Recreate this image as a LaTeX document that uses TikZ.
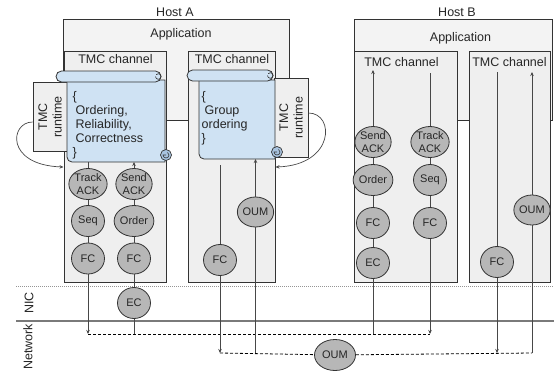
\documentclass[tikz,border=0pt]{standalone}
\usepackage{fontspec}
\setmainfont{Liberation Sans}
\usetikzlibrary{arrows.meta,shapes.geometric,calc}

\definecolor{boxfill}{HTML}{EFEFEF}
\definecolor{appfill}{HTML}{F3F3F3}
\definecolor{edge}{HTML}{333333}
\definecolor{blockfill}{HTML}{B7B7B7}
\definecolor{scrollfill}{HTML}{CFE2F3}
\definecolor{curlfill}{HTML}{A9C4E0}
\definecolor{wire}{HTML}{474747}
\definecolor{sepline}{HTML}{7A7A7A}

\begin{document}
\begin{tikzpicture}[x=1pt,y=-1pt,
  lbl/.style={font=\fontsize{12.5}{14.5}\selectfont, inner sep=0pt, text=black!85},
  hostbox/.style={draw=edge, fill=appfill, line width=0.8pt, inner sep=0pt},
  chanbox/.style={draw=edge, fill=boxfill, line width=0.8pt, inner sep=0pt},
  block/.style={ellipse, draw=edge, fill=blockfill, line width=0.8pt, inner sep=0pt,
    minimum width=33pt, minimum height=31pt, text=black!85,
    font=\fontsize{11}{12.5}\selectfont, align=center},
  wireline/.style={draw=wire, line width=0.9pt},
  arr/.style={wireline, -{Stealth[length=4pt,width=3.5pt]}},
  link/.style={draw=black, line width=0.8pt, dash pattern=on 3pt off 2pt},
  scrollbody/.style={draw=edge, fill=scrollfill, line width=0.8pt},
  curl/.style={draw=edge, fill=curlfill, line width=0.7pt},
  rules/.style={font=\fontsize{12.5}{14}\selectfont, inner sep=0pt, align=left,
    anchor=north west, text=black!85},
]
\useasboundingbox (0,0) rectangle (554,375);

% layer separators
\draw[sepline!80, line width=0.6pt, dash pattern=on 1pt off 1pt] (16,286.5) -- (554,286.5);
\draw[sepline, line width=1.1pt] (16,321) -- (554,321);
\node[lbl, rotate=90] (nic) at (29,303) {NIC};
\node[lbl, rotate=90] (network) at (28,347) {Network};

% ---------------- Host A ----------------
\node[lbl] (hostA) at (175,12) {Host A};
\node[hostbox, minimum width=226pt, minimum height=101pt] (appA) at (176,69.5) {};
\node[lbl] (appAt) at (181,34) {Application};

\node[chanbox, minimum width=102pt, minimum height=231pt] (chA1) at (115,166.5) {};
\node[chanbox, minimum width=87pt, minimum height=231pt] (chA2) at (231.5,166.5) {};
\node[lbl] (chA1t) at (115.5,59) {TMC channel};
\node[lbl] (chA2t) at (232,59) {TMC channel};

\node[chanbox, minimum width=34pt, minimum height=69pt] (rtA1) at (50,116.5) {};
\node[lbl, rotate=90, align=center] (rtA1t) at (50,117) {TMC\\runtime};
\node[chanbox, minimum width=34pt, minimum height=79pt] (rtA2) at (291,117.5) {};
\node[lbl, rotate=90, align=center] (rtA2t) at (291,117.5) {TMC\\runtime};

% scroll holding the first channel's properties
\path[scrollbody] (67,80) -- (67,157) arc[start angle=180, end angle=270, radius=5pt]
  -- (165,162) -- (165,80) -- cycle;
\path[curl] (166,155) circle[radius=5.5pt];
\draw[edge, line width=0.6pt] (166,155) -- (163,155) arc[start angle=180, end angle=420, radius=3pt];
\path[scrollbody, rounded corners=5.5pt] (56,71) rectangle (161,82);
\draw[edge, line width=0.6pt] (155.5,76.5) arc[start angle=180, end angle=500, radius=2.8pt];
\node[rules] (propsA1) at (72.5,91) {\{\\\hspace*{3pt}Ordering,\\\hspace*{3pt}Reliability,\\\hspace*{3pt}Correctness\\\}};

% scroll holding the second channel's properties
\path[scrollbody] (199,80) -- (199,154) arc[start angle=180, end angle=270, radius=5pt]
  -- (275,159) -- (275,80) -- cycle;
\path[curl] (277,152) circle[radius=5.5pt];
\draw[edge, line width=0.6pt] (277,152) -- (274,152) arc[start angle=180, end angle=420, radius=3pt];
\path[scrollbody, rounded corners=5.5pt] (187,70) rectangle (273,81);
\draw[edge, line width=0.6pt] (267.5,75.5) arc[start angle=180, end angle=500, radius=2.8pt];
\node[rules] (propsA2) at (201.5,91) {\{\\\hspace*{3pt}Group\\ordering\\\}};

\coordinate (scrA1-b) at (116,162);
\coordinate (scrA2-b) at (237,159);
\coordinate (chA2-top) at (220,165);

% runtime hooks
\coordinate (hookA1) at (63.5,167);
\coordinate (hookA2) at (275.5,167);
\draw[wireline, line width=0.7pt, -{Stealth[length=4pt,width=3.5pt]}]
  (rtA1.west |- 0,122) .. controls (10,122) and (5,165) .. (hookA1);
\draw[wireline, line width=0.7pt, -{Stealth[length=4pt,width=3.5pt]}]
  (rtA2.east |- 0,113) .. controls (335,113) and (335,165) .. (hookA2);

% blocks of host A
\node[block] (TA1) at (88,184) {Track\\ACK};
\node[block] (SQ1) at (88,221) {Seq};
\node[block] (FC1) at (88,258.5) {FC};
\node[block] (SA1) at (134,184) {Send\\ACK};
\node[block] (OR1) at (134,221) {Order};
\node[block] (FC2) at (134,258.5) {FC};
\node[block] (EC1) at (134,303) {EC};
\node[block, minimum width=36pt, minimum height=30pt] (OUM1) at (255.5,212) {OUM};
\node[block] (FC3) at (220,260) {FC};

% ---------------- Host B ----------------
\node[lbl] (hostB) at (457,12) {Host B};
\node[hostbox, minimum width=198pt, minimum height=101pt] (appB) at (453,69.5) {};
\node[lbl] (appBt) at (460.5,38) {Application};

\node[chanbox, minimum width=103pt, minimum height=231pt] (chB1) at (405.5,166.5) {};
\node[chanbox, minimum width=81pt, minimum height=231pt] (chB2) at (509.5,166.5) {};
\node[lbl] (chB1t) at (401.5,62) {TMC channel};
\node[lbl] (chB2t) at (509.5,62) {TMC channel};

\coordinate (chB1-a) at (373,70);
\coordinate (chB1-b) at (430,73);
\coordinate (chB2-a) at (497,72);
\coordinate (chB2-b) at (532,72);

\node[block] (SA2) at (373,142) {Send\\ACK};
\node[block] (OR2) at (373,180) {Order};
\node[block] (FC4) at (373,223) {FC};
\node[block] (EC2) at (373,263) {EC};
\node[block] (TA2) at (430,142) {Track\\ACK};
\node[block] (SQ2) at (430,180) {Seq};
\node[block] (FC5) at (430,223) {FC};
\node[block, minimum width=35pt, minimum height=30pt] (OUM2) at (532,210) {OUM};
\node[block] (FC6) at (497,262) {FC};

% ---------------- network ----------------
\coordinate (netU-w) at (88,334);
\coordinate (netU-e) at (430,334);
\coordinate (netL-w) at (220,353);
\coordinate (netL-e) at (532,353);
\node[block, minimum width=41pt, minimum height=31pt] (OUM3) at (335,355) {OUM};

\draw[link] (netU-w) -- (netU-e);
\draw[link] (netL-w) -- (OUM3);
\draw[link] (OUM3) -- (netL-e);

% ---------------- connectors ----------------
% host A, first channel
\draw[wireline] (TA1 |- scrA1-b) -- (TA1);
\draw[wireline] (TA1) -- (SQ1);
\draw[wireline] (SQ1) -- (FC1);
\draw[arr] (FC1) -- (FC1 |- netU-w);
\draw[arr] (SA1) -- (SA1 |- scrA1-b);
\draw[wireline] (SA1) -- (OR1);
\draw[wireline] (OR1) -- (FC2);
\draw[wireline] (FC2) -- (EC1);
\draw[wireline] (EC1) -- (EC1 |- netU-w);
% host A, second channel
\draw[wireline] (chA2-top) -- (FC3);
\draw[arr] (FC3) -- (netL-w);
\draw[arr] (OUM1) -- (OUM1 |- scrA2-b);
\draw[wireline] (OUM1) -- (OUM1 |- netL-w);
% host B, first channel
\draw[arr] (SA2) -- (chB1-a);
\draw[wireline] (SA2) -- (OR2);
\draw[wireline] (OR2) -- (FC4);
\draw[wireline] (FC4) -- (EC2);
\draw[wireline] (EC2) -- (EC2 |- netU-e);
\draw[wireline] (chB1-b) -- (TA2);
\draw[wireline] (TA2) -- (SQ2);
\draw[wireline] (SQ2) -- (FC5);
\draw[arr] (FC5) -- (netU-e);
% host B, second channel
\draw[wireline] (chB2-a) -- (FC6);
\draw[arr] (FC6) -- (FC6 |- netL-e);
\draw[arr] (OUM2) -- (chB2-b);
\draw[wireline] (OUM2) -- (netL-e);
\end{tikzpicture}
\end{document}
